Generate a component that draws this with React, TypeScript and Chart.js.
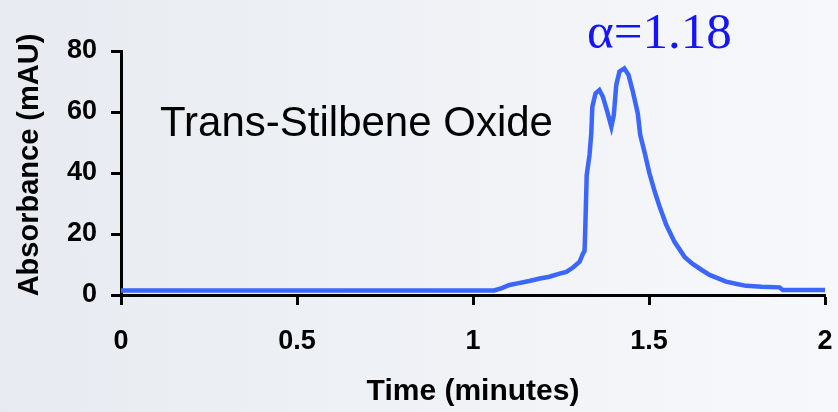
import React, { useEffect, useRef } from "react";
import { Chart, registerables } from "chart.js";

Chart.register(...registerables);

// Data
const timeMinutes = [
  0, 1.06, 1.08, 1.104, 1.13, 1.16, 1.19, 1.217, 1.246, 1.265, 1.284, 1.303, 1.312,
  1.317, 1.319, 1.323, 1.331, 1.336, 1.339, 1.348, 1.359, 1.369, 1.38, 1.393, 1.4,
  1.407, 1.416, 1.43, 1.442, 1.454, 1.468, 1.475, 1.487, 1.501, 1.516, 1.53, 1.549,
  1.572, 1.601, 1.624, 1.65, 1.672, 1.7, 1.719, 1.75, 1.776, 1.82, 1.871, 1.88, 2.0,
];
const absorbance = [
  1.5, 1.5, 2.2, 3.3, 3.9, 4.6, 5.4, 6.0, 7.0, 7.6, 9.0, 10.9, 13.5,
  14.5, 21.9, 39.3, 45.9, 53, 61.7, 66.1, 67.2, 65, 60.7, 55.2, 59,
  68.9, 73.2, 74.3, 72.1, 66.7, 59.6, 52.5, 47, 40, 34, 29, 23,
  17.5, 12.5, 10.2, 8.2, 6.6, 5.3, 4.4, 3.6, 3.0, 2.7, 2.5, 1.6, 1.6,
];
const xTickLabels = ["0", "0.5", "1", "1.5", "2"];
const xTitle = "Time (minutes)";
const yTitle = "Absorbance (mAU)";
const compoundLabel = "Trans-Stilbene Oxide";
const alphaLabel = "α=1.18";

const SANS = "'Liberation Sans', Arial, Helvetica, sans-serif";
const SERIF = "'Liberation Serif', 'Times New Roman', serif";

const labelsPlugin = {
  id: "labels",
  afterDraw(chart: any) {
    const ctx = chart.ctx;
    ctx.save();
    ctx.textAlign = "left";
    ctx.textBaseline = "alphabetic";
    ctx.fillStyle = "#000000";
    ctx.font = `42px ${SANS}`;
    ctx.fillText(compoundLabel, 160, 136);
    ctx.fillStyle = "#1414ff";
    ctx.font = `51px ${SERIF}`;
    ctx.fillText(alphaLabel, 587, 48);
    // y-axis title
    ctx.fillStyle = "#000000";
    ctx.font = `bold 29px ${SANS}`;
    ctx.translate(30, 165);
    ctx.rotate(-Math.PI / 2);
    ctx.textAlign = "center";
    ctx.textBaseline = "middle";
    ctx.fillText(yTitle, 0, 0);
    ctx.restore();
  },
};

export default function App() {
  const ref = useRef<HTMLCanvasElement | null>(null);
  useEffect(() => {
    document.body.style.margin = "0";
    const points = timeMinutes.map((t, i) => ({ x: t, y: absorbance[i] }));
    const chart = new Chart(ref.current!, {
      type: "line",
      data: {
        datasets: [
          {
            data: points,
            borderColor: "#3b66ff",
            borderWidth: 4.5,
            pointRadius: 0,
            tension: 0,
            fill: false,
          },
        ],
      },
      options: {
        animation: false,
        responsive: true,
        maintainAspectRatio: false,
        layout: { padding: { left: 0, right: 13, top: 51, bottom: 0 } },
        plugins: { legend: { display: false }, tooltip: { enabled: false } },
        scales: {
          x: {
            type: "linear",
            min: 0,
            max: 2,
            afterFit: (s: any) => {
              s.height = 117;
              s.paddingLeft = 0;
              s.paddingRight = 0;
            },
            ticks: {
              stepSize: 0.5,
              color: "#000",
              padding: 20,
              maxRotation: 0,
              callback: (_v: any, i: number) => xTickLabels[i],
              font: { family: SANS, size: 27, weight: "bold" },
            },
            grid: {
              drawOnChartArea: false,
              drawTicks: true,
              tickLength: 10,
              tickWidth: 3,
              tickColor: "#000",
              color: "#000",
            },
            border: { display: true, color: "#000", width: 3 },
            title: {
              display: true,
              text: xTitle,
              color: "#000",
              padding: { top: 0, bottom: 2 },
              font: { family: SANS, size: 30, weight: "bold" },
            },
          },
          y: {
            type: "linear",
            min: 0,
            max: 80,
            afterFit: (s: any) => {
              s.width = 121;
              s.paddingTop = 0;
              s.paddingBottom = 0;
            },
            ticks: {
              stepSize: 20,
              color: "#000",
              padding: 14,
              font: { family: SANS, size: 27, weight: "bold" },
            },
            grid: {
              drawOnChartArea: false,
              drawTicks: true,
              tickLength: 10,
              tickWidth: 3,
              tickColor: "#000",
              color: "#000",
            },
            border: { display: true, color: "#000", width: 3 },
            title: { display: false },
          },
        },
      },
      plugins: [labelsPlugin],
    });
    return () => chart.destroy();
  }, []);

  return (
    <div
      style={{
        position: "fixed",
        left: 0,
        top: 0,
        width: 838,
        height: 412,
        background: "linear-gradient(to right, #e7ebf1 0%, #eef1f5 45%, #f7f8fb 100%)",
      }}
    >
      <canvas ref={ref} />
    </div>
  );
}
